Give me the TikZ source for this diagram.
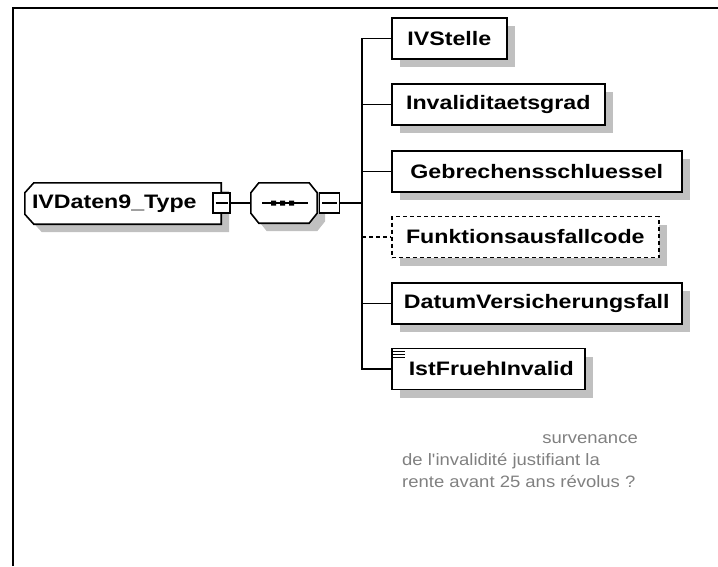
\documentclass[tikz,border=0pt]{standalone}
\usepackage{fontspec}
\setmainfont{Liberation Sans}
\newfontfamily\boxfont[FakeStretch=1.19]{Liberation Sans}
\newfontfamily\notefont[FakeStretch=1.12]{Liberation Sans}
\usetikzlibrary{shadows,backgrounds}
\definecolor{shadowgray}{RGB}{192,192,192}
\definecolor{notegray}{RGB}{128,128,128}
\begin{document}
\begin{tikzpicture}[x=1pt,y=-1pt,
  sh/.style={general shadow={fill=shadowgray, shadow xshift=8pt, shadow yshift=-8pt}},
  boxtext/.style={font=\boxfont\bfseries\fontsize{19.5}{22}\selectfont},
  elem/.style={draw, line width=1.6pt, fill=white, rectangle, minimum height=41pt,
    inner sep=0pt, anchor=west, sh, boxtext},
  optelem/.style={elem, dash pattern=on 4pt off 3pt},
  conn/.style={line width=1.5pt},
  outline/.style={draw, line width=1.6pt, fill=white},
  shadowfill/.style={fill=shadowgray, transform canvas={shift={(8pt,-8pt)}}},
  minusbox/.style={draw, line width=1.4pt, fill=white, rectangle, inner sep=0pt,
    minimum width=17pt, minimum height=20pt,
    path picture={\draw[line width=1.2pt] ([xshift=2.5pt]path picture bounding box.west) -- ([xshift=-2.5pt]path picture bounding box.east);}},
  note/.style={font=\notefont\fontsize{16.5}{22}\selectfont, text=notegray, inner sep=0pt}
]
\useasboundingbox (0,0) rectangle (718,566);
\draw[line width=2.5pt] (13,566) |- (718,8);

% complex type
\node[minimum width=196pt, minimum height=41pt, inner ysep=0pt, inner xsep=7pt,
  text width=182pt, align=left, boxtext] (type) at (123,203.5) {IVDaten9\_Type};
\begin{scope}[on background layer]
  \path[shadowfill] ([xshift=9pt]type.north west) -- (type.north east) -- (type.south east)
    -- ([xshift=9pt]type.south west) -- ([yshift=10pt]type.south west)
    -- ([yshift=-10pt]type.north west) -- cycle;
  \path[outline] ([xshift=9pt]type.north west) -- (type.north east) -- (type.south east)
    -- ([xshift=9pt]type.south west) -- ([yshift=10pt]type.south west)
    -- ([yshift=-10pt]type.north west) -- cycle;
\end{scope}
\node[minusbox] (m1) at (221.5,203) {};

% sequence compositor
\node[minimum width=66pt, minimum height=40pt, inner sep=0pt] (comp) at (284,203) {};
\begin{scope}[on background layer]
  \path[shadowfill] ([xshift=8pt]comp.north west) -- ([xshift=-8pt]comp.north east)
    -- ([yshift=-10pt]comp.north east) -- ([yshift=10pt]comp.south east)
    -- ([xshift=-8pt]comp.south east) -- ([xshift=8pt]comp.south west)
    -- ([yshift=10pt]comp.south west) -- ([yshift=-10pt]comp.north west) -- cycle;
  \path[outline] ([xshift=8pt]comp.north west) -- ([xshift=-8pt]comp.north east)
    -- ([yshift=-10pt]comp.north east) -- ([yshift=10pt]comp.south east)
    -- ([xshift=-8pt]comp.south east) -- ([xshift=8pt]comp.south west)
    -- ([yshift=10pt]comp.south west) -- ([yshift=-10pt]comp.north west) -- cycle;
\end{scope}
\draw[line width=1.4pt] ([xshift=-22pt]comp.center) -- ([xshift=24pt]comp.center);
\foreach \dx in {-8,1,10}
  \fill ([xshift=\dx pt]comp.center) rectangle ++(-5,-2.5) rectangle ++(5,5);
\node[minusbox, minimum width=20pt] (m2) at (329.5,203) {};

\draw[conn] (m1.east) -- (comp.west);
\coordinate (bj) at (362,203);

% children
\node[elem, minimum width=115pt] (e1) at (391,38.5) {IVStelle};
\node[elem, minimum width=213pt] (e2) at (391,104.5) {Invaliditaetsgrad};
\node[elem, minimum width=290pt] (e3) at (391,171.5) {Gebrechensschluessel};
\node[optelem, minimum width=267pt] (e4) at (391,237) {Funktionsausfallcode};
\node[elem, minimum width=290pt] (e5) at (391,303.5) {DatumVersicherungsfall};
\node[elem, minimum width=193pt] (e6) at (391,369) {\hspace*{6pt}IstFruehInvalid};
\foreach \dy/\len in {4/12,7/12,10/12}
  \draw[line width=1.1pt] ([shift={(2,\dy)}]e6.north west) -- ++(\len,0);

\draw[conn] (m2.east) -- (bj);
\draw[conn] (e1.west) -| (bj) |- (e6.west);
\draw[conn] (e2.west) -- (e2.west -| bj);
\draw[conn] (e3.west) -- (e3.west -| bj);
\draw[conn] (e5.west) -- (e5.west -| bj);
\draw[conn, dash pattern=on 4pt off 3pt] (e4.west -| bj) -- (e4.west);

% annotation
\node[note, anchor=base east] (n1) at (638,443) {survenance};
\node[note, anchor=base west] (n2) at (402,465) {de l'invalidité justifiant la};
\node[note, anchor=base west] (n3) at (402,487) {rente avant 25 ans révolus ?};
\end{tikzpicture}
\end{document}
